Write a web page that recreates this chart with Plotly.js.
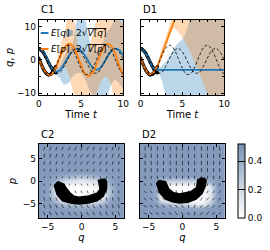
<!DOCTYPE html>
<html><head><meta charset="utf-8">
<script src="https://cdn.plot.ly/plotly-3.0.1.min.js"></script>
<style>html,body{margin:0;padding:0;background:#fff}#chart{width:270px;height:250px}</style>
</head><body><div id="chart"></div>
<script>
// ---------- time series data (top panels) ----------
const tGrid = [0,0.5,1,1.5,2,2.5,3,3.5,4,4.5,5,5.5,6,6.5,7,7.5,8,8.5,9,9.5,10];
const qTrue = [3.49,2.43,0.10,-2.42,-3.95,-3.77,-1.96,0.62,2.77,3.49,2.43,0.10,-2.42,-3.95,-3.77,-1.96,0.62,2.77,3.49,2.43,0.10];
const pTrue = [0.47,-2.52,-4.33,-4.11,-1.97,1.09,3.64,4.49,3.24,0.47,-2.52,-4.33,-4.11,-1.97,1.09,3.64,4.49,3.24,0.47,-2.52,-4.33];
const tData = [0,0.1,0.2,0.3,0.4,0.5,0.6,0.7,0.8,0.9,1.0,1.1,1.2,1.3,1.4,1.5,1.6,1.7,1.8,1.9,2.0];
const qData = [3.5,3.4,3.2,2.9,2.7,2.4,2.0,1.5,1.0,0.6,0.1,-0.5,-1.0,-1.5,-2.0,-2.4,-2.9,-3.2,-3.5,-3.8,-3.9];
const pData = [0.5,-0.2,-0.8,-1.4,-2.0,-2.5,-3.0,-3.4,-3.8,-4.1,-4.3,-4.5,-4.5,-4.4,-4.3,-4.1,-3.8,-3.4,-2.9,-2.4,-2.0];

// C1 model
const c1MeanQ = [3.4,2.5,0.3,-2.4,-3.6,-3.0,-1.2,1.0,2.7,3.4,2.9,1.2,-1.0,-2.6,-2.9,-1.7,0.4,2.4,3.4,3.0,1.3];
const c1MeanP = [0.3,-2.5,-4.3,-4.3,-2.3,0.8,3.5,4.9,4.3,1.8,-1.5,-4.3,-4.8,-3.3,-0.3,2.8,4.8,4.5,2.2,-1.5,-4.8];
const c1QUp   = [3.7,2.9,0.8,-1.9,-2.8,-1.5,1,3,5,12,14,12,6,3,3,5,8,10,12,13,13];
const c1QLo   = [3.1,2.1,-0.2,-2.9,-4.4,-5.5,-7.5,-7,-5,-4,-4,-6,-9,-11,-12,-13,-12,-8,-6,-7,-9];
const c1PUp   = [0.7,-2.0,-3.8,-3.7,-1.2,4,8,13,14,6,2,1,4,9,13,14,14,14,13,12,11];
const c1PLo   = [-0.1,-3.0,-4.8,-5.0,-3.5,-2.5,-2,-4,-9,-12,-12,-12,-13,-13,-9,-6,-5,-7,-12,-13,-14];

// D1 model
const d1MeanQ = [3.4,2.4,0.1,-2.4,-3.0,-3.0,-3.0,-3.0,-3.0,-3.0,-3.0,-3.0,-3.0,-3.0,-3.0,-3.0,-3.0,-3.0,-3.0,-3.0,-3.0];
const d1MeanP = [0.5,-2.5,-4.3,-3.9,-1.8,1.6,5.0,8.4,11.8,15.2,18.6,22,25.4,28.8,32.2,35.6,39,42.4,45.8,49.2,52.6];
const d1QUp   = [3.7,2.8,0.5,-1.9,-2.5,-1.8,-0.5,1.5,3.5,5.2,6.3,9,14,20,30,40,50,60,70,80,90];
const d1QLo   = [3.1,2.0,-0.3,-2.9,-3.5,-6,-11,-16,-22,-28,-34,-40,-46,-52,-58,-64,-70,-76,-82,-88,-94];
const d1PUp   = [0.8,-2.1,-3.9,-3.4,-1.0,3.0,7.0,11,15,20,25,30,35,40,45,50,55,60,65,70,75];
const d1PLo   = [0.2,-2.9,-4.7,-4.4,-2.6,0.0,3.5,7.0,9.5,8.5,6.8,4.5,2.0,-1.0,-4.0,-7.0,-10.6,-15,-20,-25,-30];

// ---------- phase-space data (bottom panels) ----------
const qHeat = [-6,-5,-4,-3,-2,-1,0,1,2,3,4,5,6];
const pHeat = [-8,-7,-6,-5,-4,-3,-2,-1,0,1,2,3,4,5,6,7,8];
const B = 0.47;
const zC2 = [
 [B,B,B,B,B,B,B,B,B,B,B,B,B],
 [B,B,B,B,B,B,B,B,B,B,B,B,B],
 [B,B,B,.46,.44,.42,.42,.42,.44,.46,B,B,B],
 [B,B,.44,.35,.30,.28,.28,.28,.30,.36,.44,B,B],
 [B,.46,.30,.12,.06,.05,.05,.05,.06,.15,.38,B,B],
 [B,.44,.20,.04,.02,.02,.02,.02,.03,.08,.30,.46,B],
 [B,.44,.18,.03,.01,0,0,0,.02,.08,.28,.46,B],
 [B,.45,.24,.06,.03,.02,.02,.03,.05,.12,.32,.46,B],
 [B,.46,.38,.25,.18,.14,.12,.14,.18,.26,.40,B,B],
 [B,B,.46,.42,.38,.34,.32,.34,.38,.42,.46,B,B],
 [B,B,B,B,B,B,B,B,B,B,B,B,B],
 [B,B,B,B,B,B,B,B,B,B,B,B,B],
 [B,B,B,B,B,B,B,B,B,B,B,B,B],
 [B,B,B,B,B,B,B,B,B,B,B,B,B],
 [B,B,B,B,B,B,B,B,B,B,B,B,B],
 [B,B,B,B,B,B,B,B,B,B,B,B,B],
 [B,B,B,B,B,B,B,B,B,B,B,B,B]];
const zD2 = [
 [B,B,B,B,B,B,B,B,B,B,B,B,B],
 [B,B,B,B,B,B,B,B,B,B,B,B,B],
 [B,B,B,B,.46,.45,.44,.42,.40,.42,.46,B,B],
 [B,B,B,.38,.30,.25,.22,.15,.10,.10,.30,B,B],
 [B,B,.42,.06,.02,.02,.02,.02,.02,.03,.15,.46,B],
 [B,B,.40,.04,.02,.02,.02,.02,.02,.03,.12,.45,B],
 [B,B,.40,.04,.02,.02,.02,.02,.02,.03,.12,.45,B],
 [B,B,.42,.06,.03,.03,.03,.03,.03,.05,.15,.46,B],
 [B,B,.46,.30,.25,.25,.25,.25,.25,.30,.40,B,B],
 [B,B,B,B,B,B,B,B,B,B,B,B,B],
 [B,B,B,B,B,B,B,B,B,B,B,B,B],
 [B,B,B,B,B,B,B,B,B,B,B,B,B],
 [B,B,B,B,B,B,B,B,B,B,B,B,B],
 [B,B,B,B,B,B,B,B,B,B,B,B,B],
 [B,B,B,B,B,B,B,B,B,B,B,B,B],
 [B,B,B,B,B,B,B,B,B,B,B,B,B],
 [B,B,B,B,B,B,B,B,B,B,B,B,B]];

const cresCq = [-3.5,-4.0,-3.6,-2.8,-1.6,-0.4,1.0,2.3,3.2,3.7,3.7,3.5,3.0,2.5,2.75,2.3,1.06,-0.4,-1.2,-1.8,-2.3,-2.6,-3.5];
const cresCp = [-0.15,-1.0,-3.0,-4.4,-4.9,-5.1,-4.9,-4.4,-3.4,-1.8,-0.2,0.4,0.4,0.1,-1.8,-2.7,-3.3,-3.6,-3.3,-2.5,-1.5,-0.7,-0.15];
const cresDq = [-3.5,-3.8,-3.4,-2.5,-1.5,-0.4,0.8,2.0,2.9,3.4,3.5,3.2,2.7,2.25,2.1,1.2,-0.4,-1.3,-2.0,-2.3,-2.5,-3.5];
const cresDp = [0.1,-0.6,-2.5,-4.0,-4.6,-4.9,-4.7,-4.0,-2.8,-1.0,0.2,0.6,0.6,0.3,-1.4,-2.4,-2.9,-2.6,-1.8,-1.0,-0.15,0.1];

// quiver grid, dash orientation (deg on screen) and relative length
const qVec = [-5.5,-4.6,-3.7,-2.8,-1.8,-0.9,0,0.9,1.8,2.8,3.7,4.6,5.5];
const pVec = [7.2,5.6,4.0,2.4,0.8,-0.8,-2.4,-4.0,-5.6,-7.2];
const angC2 = [
 [70,68,66,64,62,62,62,62,62,64,66,68,70],
 [75,70,66,64,62,60,60,60,62,64,66,70,75],
 [80,75,70,66,62,60,58,60,62,66,70,75,80],
 [85,82,78,72,66,60,55,60,66,72,78,82,85],
 [90,90,88,85,80,70,60,70,80,85,88,90,90],
 [95,95,98,100,105,110,115,110,105,100,95,92,90],
 [100,102,105,108,112,115,118,115,110,105,100,95,92],
 [105,108,112,115,118,120,120,118,115,110,105,100,98],
 [110,112,115,118,120,122,122,120,118,115,112,108,105],
 [112,115,118,120,122,124,124,122,120,118,115,112,110]];
const magC2 = [1,1,0.9,0.7,0.5,0.5,0.7,0.9,1,1];
const angD2 = [
 [90,90,90,90,90,90,90,90,90,90,90,90,90],
 [90,90,90,90,90,90,90,90,90,90,90,90,90],
 [92,91,90,90,90,90,90,90,90,90,90,89,88],
 [95,93,92,90,90,90,90,90,90,90,88,87,85],
 [100,98,95,92,90,90,90,90,90,88,85,82,80],
 [115,112,108,100,95,90,90,90,85,78,72,68,65],
 [130,128,125,120,110,100,90,80,70,60,55,52,50],
 [140,138,135,130,125,115,100,80,65,55,48,45,42],
 [150,148,145,140,135,130,120,100,70,55,45,40,38],
 [155,152,150,148,145,140,135,120,80,55,42,38,35]];
const magD2 = [1.1,1.1,1.1,1,0.8,0.7,0.8,0.9,0.9,0.9];

// ---------- layout helpers ----------
const W = 270, H = 250;
const px = v => v / W, py = v => 1 - v / H;
const FONT = 'DejaVu Sans';
const blue = '#1f77b4', orange = '#ff7f0e';
const blueFill = 'rgba(31,119,180,0.3)', orangeFill = 'rgba(255,127,14,0.3)';

const axBase = {showline:true, linecolor:'#000', linewidth:1, mirror:'ticks', ticks:'inside',
  ticklen:3, tickwidth:1, tickcolor:'#000', zeroline:false, showgrid:false,
  tickfont:{family:FONT, size:9, color:'#000'}, fixedrange:true};
function ax(extra){ return Object.assign({}, axBase, extra); }

const layout = {
  width:W, height:H, margin:{l:0,r:0,t:0,b:0}, paper_bgcolor:'#fff', plot_bgcolor:'#fff',
  showlegend:false, font:{family:FONT, size:10, color:'#000'},
  xaxis: ax({domain:[px(40),px(127)], range:[0,10], anchor:'y', tickvals:[0,5,10],
    minor:{dtick:1, ticklen:2, ticks:'inside', tickcolor:'#000'},
    title:{text:'Time <i>t</i>', font:{size:10}, standoff:1}}),
  yaxis: ax({domain:[py(95),py(20)], range:[-10.6,12.1], anchor:'x', tickvals:[-10,0,10], ticktext:['\u221210','0','10'],
    minor:{dtick:5, ticklen:2, ticks:'inside', tickcolor:'#000'},
    title:{text:'<i>q</i>, <i>p</i>', font:{size:10}, standoff:1}}),
  xaxis2: ax({domain:[px(145),px(231)], range:[0,10], anchor:'y2', tickvals:[0,5,10],
    minor:{dtick:1, ticklen:2, ticks:'inside', tickcolor:'#000'},
    title:{text:'Time <i>t</i>', font:{size:10}, standoff:1}}),
  yaxis2: ax({domain:[py(95),py(20)], range:[-10.6,12.1], anchor:'x2', tickvals:[-10,0,10], showticklabels:false,
    minor:{dtick:5, ticklen:2, ticks:'inside', tickcolor:'#000'}}),
  xaxis3: ax({domain:[px(40),px(128)], range:[-6.3,6.3], anchor:'y3', tickvals:[-5,0,5], ticktext:['\u22125','0','5'],
    title:{text:'<i>q</i>', font:{size:10}, standoff:1}}),
  yaxis3: ax({domain:[py(218),py(144)], range:[-8.2,8.2], anchor:'x3', tickvals:[-5,0,5], ticktext:['\u22125','0','5'],
    title:{text:'<i>p</i>', font:{size:10}, standoff:4}}),
  xaxis4: ax({domain:[px(144),px(232)], range:[-6.3,6.3], anchor:'y4', tickvals:[-5,0,5], ticktext:['\u22125','0','5'],
    title:{text:'<i>q</i>', font:{size:10}, standoff:1}}),
  yaxis4: ax({domain:[py(218),py(144)], range:[-8.2,8.2], anchor:'x4', tickvals:[-5,0,5], showticklabels:false}),
  coloraxis: {cmin:0, cmax:0.52,
    colorscale:[[0,'#ffffff'],[0.38,'#d3dbe6'],[0.77,'#97abc8'],[1,'#7890b6']],
    colorbar:{x:px(245), xanchor:'left', y:py(218), yanchor:'bottom', len:74/H, lenmode:'fraction',
      thickness:7, thicknessmode:'pixels', outlinewidth:1, outlinecolor:'#000', xpad:0, ypad:0,
      tickvals:[0,0.2,0.4], ticktext:['0.0','0.2','0.4'], ticks:'inside', ticklen:7, tickcolor:'#000',
      tickfont:{family:FONT, size:9, color:'#000'}}},
  annotations: [], shapes: []
};

// panel titles
[['C1',40,9],['D1',145,9],['C2',40,134],['D2',144,134]].forEach(a=>{
  layout.annotations.push({text:a[0], x:px(a[1]), y:py(a[2]), xref:'paper', yref:'paper',
    xanchor:'left', yanchor:'middle', showarrow:false, font:{size:10}});
});
// legend of C1 (text + swatches)
const legRows = [
  {y:33, line:blue, patch:'rgba(31,119,180,0.45)', a:'<i>E</i>[<i>q</i>]', b:'2\u221A<span style="text-decoration:overline"><i>V</i>[<i>q</i>]</span>'},
  {y:49, line:orange, patch:'rgba(214,170,130,0.8)', a:'<i>E</i>[<i>p</i>]', b:'2\u221A<span style="text-decoration:overline"><i>V</i>[<i>p</i>]</span>'}];
legRows.forEach(r=>{
  layout.shapes.push({type:'line', xref:'paper', yref:'paper', x0:px(42), x1:px(50), y0:py(r.y), y1:py(r.y), line:{color:r.line, width:2}});
  layout.shapes.push({type:'rect', xref:'paper', yref:'paper', x0:px(68), x1:px(75), y0:py(r.y+3), y1:py(r.y-3), fillcolor:r.patch, line:{width:0}});
  layout.annotations.push({text:r.a, x:px(51), y:py(r.y), xref:'paper', yref:'paper', xanchor:'left', yanchor:'middle', showarrow:false, font:{size:9}});
  layout.annotations.push({text:r.b, x:px(76), y:py(r.y), xref:'paper', yref:'paper', xanchor:'left', yanchor:'middle', showarrow:false, font:{size:9}});
});

// ---------- traces ----------
const traces = [];
function band(xa, ya, lo, up, fill){
  traces.push({x:tGrid, y:lo, xaxis:xa, yaxis:ya, mode:'lines', line:{width:0, shape:'spline'}, hoverinfo:'skip'});
  traces.push({x:tGrid, y:up, xaxis:xa, yaxis:ya, mode:'lines', line:{width:0, shape:'spline'}, fill:'tonexty', fillcolor:fill, hoverinfo:'skip'});
}
function timePanel(xa, ya, mq, mp, qlo, qup, plo, pup){
  band(xa, ya, qlo, qup, blueFill);
  band(xa, ya, plo, pup, orangeFill);
  traces.push({x:tData, y:qData, xaxis:xa, yaxis:ya, mode:'markers', marker:{color:'#000', size:3.5}});
  traces.push({x:tData, y:pData, xaxis:xa, yaxis:ya, mode:'markers', marker:{color:'#000', size:3.5}});
  traces.push({x:tGrid, y:mq, xaxis:xa, yaxis:ya, mode:'lines', line:{color:blue, width:1.8, shape:'spline'}});
  traces.push({x:tGrid, y:mp, xaxis:xa, yaxis:ya, mode:'lines', line:{color:orange, width:1.8, shape:'spline'}});
  traces.push({x:tGrid, y:qTrue, xaxis:xa, yaxis:ya, mode:'lines', line:{color:'#000', width:0.8, dash:'3px,2px', shape:'spline'}});
  traces.push({x:tGrid, y:pTrue, xaxis:xa, yaxis:ya, mode:'lines', line:{color:'#000', width:0.8, dash:'3px,2px', shape:'spline'}});
}
timePanel('x','y', c1MeanQ, c1MeanP, c1QLo, c1QUp, c1PLo, c1PUp);
timePanel('x2','y2', d1MeanQ, d1MeanP, d1QLo, d1QUp, d1PLo, d1PUp);

function phasePanel(xa, ya, z, cq, cp, ang, mag, xk, yk){
  traces.push({type:'heatmap', x:qHeat, y:pHeat, z:z, xaxis:xa, yaxis:ya, coloraxis:'coloraxis', zsmooth:'best', hoverinfo:'skip'});
  traces.push({x:cq, y:cp, xaxis:xa, yaxis:ya, mode:'lines', fill:'toself', fillcolor:'#000', line:{color:'#000', width:1.5}});
  const xl = layout[xk], yl = layout[yk];
  const pxQ = (xl.domain[1]-xl.domain[0])*W/(xl.range[1]-xl.range[0]);
  const pxP = (yl.domain[1]-yl.domain[0])*H/(yl.range[1]-yl.range[0]);
  const L = 4;
  const sx = [], sy = [];
  pVec.forEach((p,i)=>qVec.forEach((q,j)=>{
    const a = ang[i][j]*Math.PI/180, len = L*mag[i];
    const dq = Math.cos(a)*len/2/pxQ, dp = Math.sin(a)*len/2/pxP;
    sx.push(q-dq, q+dq, null); sy.push(p-dp, p+dp, null);
  }));
  traces.push({x:sx, y:sy, xaxis:xa, yaxis:ya, mode:'lines', line:{color:'#000', width:0.6}, hoverinfo:'skip'});
}
phasePanel('x3','y3', zC2, cresCq, cresCp, angC2, magC2, 'xaxis3','yaxis3');
phasePanel('x4','y4', zD2, cresDq, cresDp, angD2, magD2, 'xaxis4','yaxis4');

Plotly.newPlot('chart', traces, layout, {staticPlot:true});
</script></body></html>
